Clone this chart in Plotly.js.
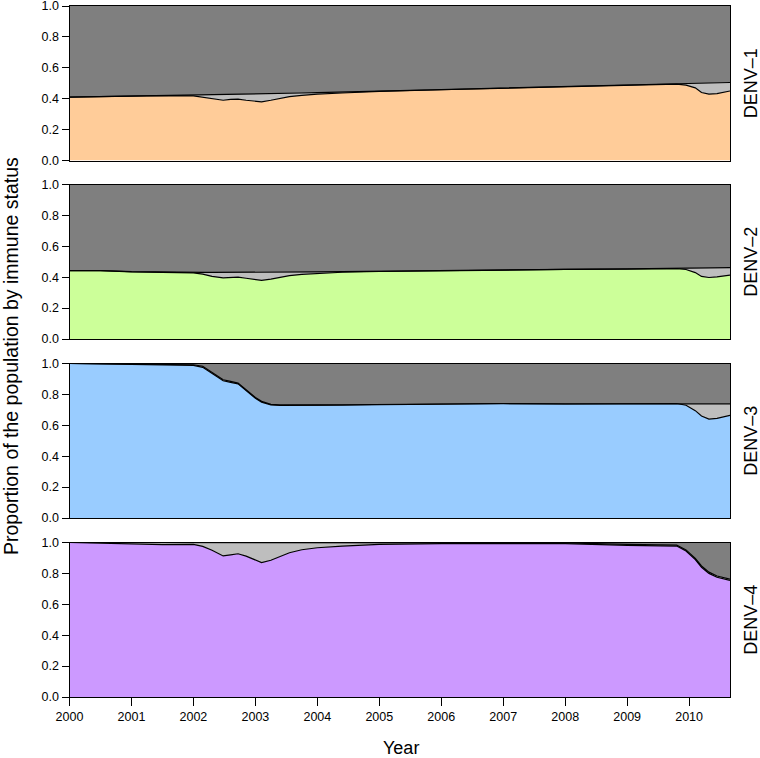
<!DOCTYPE html>
<html>
<head>
<meta charset="utf-8">
<script src="https://cdn.plot.ly/plotly-3.0.1.min.js"></script>
<style>html,body{margin:0;padding:0;background:#fff;}#chart{width:760px;height:758px;}</style>
</head>
<body>
<div id="chart"></div>
<script>
// Time points (years)
const years = [2000, 2000.5, 2001, 2001.5, 2002, 2002.15, 2002.3, 2002.48, 2002.6, 2002.72, 2002.85, 2003, 2003.1, 2003.25, 2003.4, 2003.55, 2003.75, 2004, 2004.4, 2005, 2006, 2007, 2008, 2009, 2009.5, 2009.8, 2009.95, 2010.1, 2010.2, 2010.32, 2010.45, 2010.66];

const serotypes = ["DENV\u20131", "DENV\u20132", "DENV\u20133", "DENV\u20134"];

// Susceptible proportion (coloured area, bottom)
const suscDENV1 = [0.410, 0.413, 0.416, 0.420, 0.418, 0.410, 0.398, 0.390, 0.395, 0.397, 0.390, 0.382, 0.380, 0.390, 0.403, 0.413, 0.422, 0.430, 0.437, 0.447, 0.458, 0.468, 0.476, 0.484, 0.490, 0.494, 0.488, 0.470, 0.440, 0.430, 0.433, 0.450];
const suscDENV2 = [0.443, 0.443, 0.435, 0.430, 0.428, 0.420, 0.405, 0.396, 0.400, 0.400, 0.393, 0.384, 0.380, 0.388, 0.400, 0.410, 0.418, 0.425, 0.432, 0.437, 0.443, 0.448, 0.450, 0.452, 0.455, 0.456, 0.450, 0.430, 0.405, 0.398, 0.402, 0.413];
const suscDENV3 = [1.000, 0.997, 0.990, 0.987, 0.988, 0.975, 0.935, 0.888, 0.878, 0.868, 0.825, 0.775, 0.750, 0.732, 0.728, 0.728, 0.729, 0.730, 0.731, 0.733, 0.736, 0.740, 0.738, 0.737, 0.740, 0.741, 0.730, 0.695, 0.660, 0.640, 0.645, 0.665];
const suscDENV4 = [1.000, 0.996, 0.988, 0.986, 0.988, 0.975, 0.950, 0.913, 0.920, 0.927, 0.912, 0.885, 0.870, 0.885, 0.910, 0.934, 0.953, 0.966, 0.977, 0.988, 0.993, 0.995, 0.993, 0.982, 0.980, 0.977, 0.945, 0.890, 0.840, 0.800, 0.775, 0.755];

// Cumulative susceptible + currently infected (top of light grey band)
const susInfDENV1 = [0.410, 0.413, 0.416, 0.420, 0.422, 0.423, 0.424, 0.425, 0.427, 0.428, 0.430, 0.432, 0.433, 0.434, 0.435, 0.436, 0.437, 0.439, 0.442, 0.449, 0.459, 0.469, 0.477, 0.485, 0.491, 0.495, 0.497, 0.499, 0.500, 0.502, 0.503, 0.505];
const susInfDENV2 = [0.443, 0.443, 0.436, 0.432, 0.431, 0.431, 0.431, 0.431, 0.431, 0.431, 0.431, 0.432, 0.432, 0.432, 0.432, 0.433, 0.433, 0.434, 0.436, 0.439, 0.444, 0.449, 0.451, 0.454, 0.456, 0.458, 0.459, 0.460, 0.460, 0.461, 0.461, 0.462];
const susInfDENV3 = [1.000, 0.998, 0.992, 0.990, 0.992, 0.982, 0.942, 0.895, 0.884, 0.873, 0.830, 0.780, 0.755, 0.736, 0.732, 0.731, 0.731, 0.732, 0.733, 0.735, 0.737, 0.741, 0.739, 0.739, 0.741, 0.742, 0.741, 0.740, 0.740, 0.740, 0.739, 0.739];
const susInfDENV4 = [1.000, 1.000, 1.000, 1.000, 1.000, 1.000, 1.000, 1.000, 1.000, 1.000, 1.000, 1.000, 1.000, 1.000, 1.000, 1.000, 1.000, 1.000, 1.000, 1.000, 1.000, 0.999, 0.997, 0.988, 0.986, 0.983, 0.952, 0.897, 0.848, 0.808, 0.783, 0.763];

const xTicks = [2000, 2001, 2002, 2003, 2004, 2005, 2006, 2007, 2008, 2009, 2010];
const yTicks = [0, 0.2, 0.4, 0.6, 0.8, 1.0];
const yTickText = ["0.0", "0.2", "0.4", "0.6", "0.8", "1.0"];

const susc = [suscDENV1, suscDENV2, suscDENV3, suscDENV4];
const susInf = [susInfDENV1, susInfDENV2, susInfDENV3, susInfDENV4];
const colours = ["#FFCC99", "#CCFF99", "#99CCFF", "#CC99FF"];
const ones = years.map(() => 1);

const W = 760, H = 758;
const xL = 69.5, xR = 730;
const panelTops = [6, 184.5, 363.5, 542.5];
const panelH = 154.5;

const traces = [];
const layout = {
  width: W, height: H,
  margin: {l: 0, r: 0, t: 0, b: 0},
  paper_bgcolor: "#fff", plot_bgcolor: "#fff",
  showlegend: false,
  font: {family: "Liberation Sans, Arial, sans-serif", color: "#000"},
  annotations: []
};

for (let i = 0; i < 4; i++) {
  const ax = i === 0 ? "" : String(i + 1);
  const xa = "x" + ax, ya = "y" + ax;
  traces.push({x: years, y: susc[i], xaxis: xa, yaxis: ya, type: "scatter", mode: "lines",
    fill: "tozeroy", fillcolor: colours[i], line: {width: 0, color: colours[i]}, hoverinfo: "skip"});
  traces.push({x: years, y: susInf[i], xaxis: xa, yaxis: ya, type: "scatter", mode: "lines",
    fill: "tonexty", fillcolor: "#BEBEBE", line: {width: 0, color: "#BEBEBE"}, hoverinfo: "skip"});
  traces.push({x: years, y: ones, xaxis: xa, yaxis: ya, type: "scatter", mode: "lines",
    fill: "tonexty", fillcolor: "#7F7F7F", line: {width: 0, color: "#7F7F7F"}, hoverinfo: "skip"});
  traces.push({x: years, y: susInf[i], xaxis: xa, yaxis: ya, type: "scatter", mode: "lines",
    line: {width: 1.2, color: "#000"}, hoverinfo: "skip"});
  traces.push({x: years, y: susc[i], xaxis: xa, yaxis: ya, type: "scatter", mode: "lines",
    line: {width: 1.2, color: "#000"}, hoverinfo: "skip"});

  const top = panelTops[i], bottom = top + panelH;
  const isLast = i === 3;
  layout["xaxis" + ax] = {
    domain: [xL / W, xR / W], range: [2000, 2010.66], anchor: ya,
    showgrid: false, zeroline: false, showline: true, mirror: true, linecolor: "#000", linewidth: 1,
    tickmode: "array", tickvals: xTicks, ticks: isLast ? "outside" : "", ticklen: 8, tickcolor: "#000",
    showticklabels: isLast, tickfont: {size: 12.5, color: "#000"}
  };
  layout["yaxis" + ax] = {
    domain: [1 - bottom / H, 1 - top / H], range: [0, 1], anchor: xa,
    showgrid: false, zeroline: false, showline: true, mirror: true, linecolor: "#000", linewidth: 1,
    tickmode: "array", tickvals: yTicks, ticktext: yTickText, ticks: "outside", ticklen: 7, tickcolor: "#000",
    ticklabeloverflow: "allow",
    tickfont: {size: 12.5, color: "#000"}
  };
  layout.annotations.push({
    text: serotypes[i], xref: "paper", yref: "paper", x: 751 / W, y: 1 - (top + panelH / 2) / H,
    showarrow: false, textangle: -90, font: {size: 18, color: "#000"}, xanchor: "center", yanchor: "middle"
  });
}

layout.annotations.push({
  text: "Proportion of the population by immune status", xref: "paper", yref: "paper",
  x: 11 / W, y: 1 - 356 / H, showarrow: false, textangle: -90,
  font: {size: 19.5, color: "#000"}, xanchor: "center", yanchor: "middle"
});
layout.annotations.push({
  text: "Year", xref: "paper", yref: "paper", x: 401 / W, y: 1 - 748 / H, showarrow: false,
  font: {size: 18, color: "#000"}, xanchor: "center", yanchor: "middle"
});

Plotly.newPlot("chart", traces, layout, {displayModeBar: false, staticPlot: true});
</script>
</body>
</html>
